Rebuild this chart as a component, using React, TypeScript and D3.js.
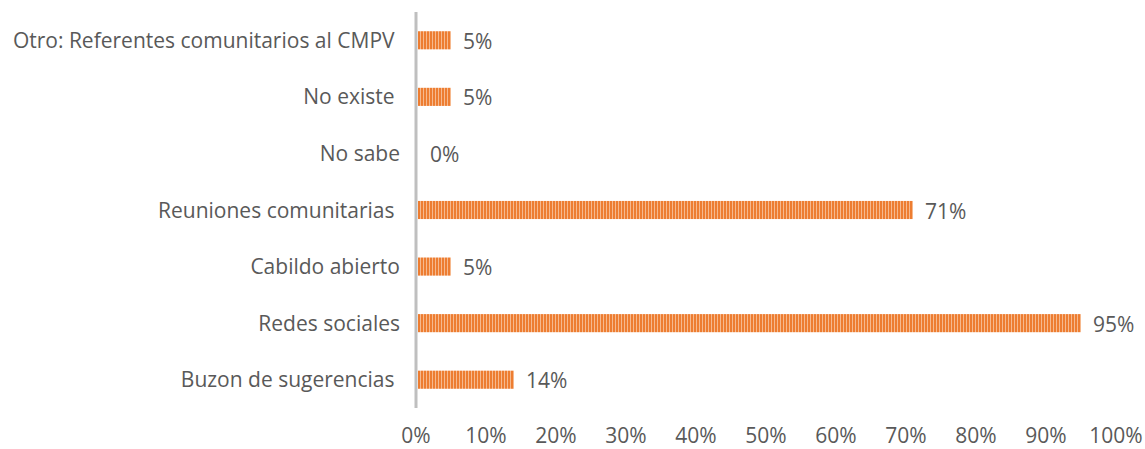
import React from "react";
import * as d3 from "d3";

const categories = [
  "Otro: Referentes comunitarios al CMPV ",
  "No existe ",
  "No sabe",
  "Reuniones comunitarias ",
  "Cabildo abierto",
  "Redes sociales",
  "Buzon de sugerencias ",
];
const values = [0.05, 0.05, 0, 0.71, 0.05, 0.95, 0.14];
const ticks = [0, 0.1, 0.2, 0.3, 0.4, 0.5, 0.6, 0.7, 0.8, 0.9, 1.0];

const W = 1145;
const H = 449;
const FONT = "'Open Sans', 'DejaVu Sans', sans-serif";
const TEXT = "#595959";
const FS = 21;

export default function App() {
  const x = d3.scaleLinear().domain([0, 1]).range([416, 1116]);
  const y = d3.scaleBand<string>().domain(categories).range([12, 408]).paddingInner(0.68).paddingOuter(0.34);
  const fmt = d3.format(".0%");
  return (
    <svg width={W} height={H} style={{ position: "absolute", left: 0, top: 0, background: "#fff" }}>
      <defs>
        <pattern id="stripes" patternUnits="userSpaceOnUse" width={3} height={10} x={418}>
          <rect x={0} y={0} width={3} height={10} fill="#ED7D31" />
          <rect x={2} y={0} width={1} height={10} fill="#F6B98E" />
        </pattern>
      </defs>
      {categories.map((c, i) => {
        const yc = (y(c) as number) + y.bandwidth() / 2;
        const x1 = x(values[i]);
        return (
          <g key={c}>
            {values[i] > 0 && (
              <rect x={418} y={y(c)} width={x1 - 418} height={y.bandwidth()} fill="url(#stripes)" />
            )}
            <text x={400} y={yc} dy="0.36em" textAnchor="end" fontFamily={FONT} fontSize={FS} fill={TEXT} style={{ whiteSpace: "pre" }}>
              {c}
            </text>
            <text x={Math.max(x1, 418) + 12} y={yc + 1} dy="0.36em" fontFamily={FONT} fontSize={FS} fill={TEXT}>
              {fmt(values[i])}
            </text>
          </g>
        );
      })}
      <line x1={416} x2={416} y1={12} y2={408} stroke="#BFBFBF" strokeWidth={3} />
      {ticks.map((t) => (
        <text key={t} x={x(t)} y={435} dy="0.36em" textAnchor="middle" fontFamily={FONT} fontSize={FS} fill={TEXT}>
          {fmt(t)}
        </text>
      ))}
    </svg>
  );
}
